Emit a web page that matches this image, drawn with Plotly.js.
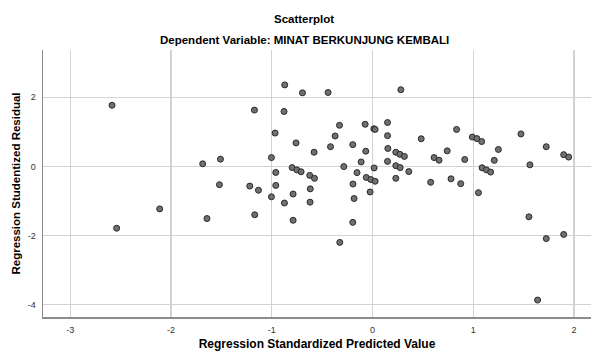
<!DOCTYPE html>
<html>
<head>
<meta charset="utf-8">
<script src="https://cdn.plot.ly/plotly-3.0.1.min.js"></script>
<style>html,body{margin:0;padding:0;background:#fff;}#chart{width:591px;height:351px;}</style>
</head>
<body>
<div id="chart"></div>
<script>
const predicted = [
  -2.585, -1.685, -1.509, -1.519, -2.112, -1.643, -2.539, -0.871, -0.695, -0.441,
  0.281, -1.172, -0.878, -0.328, -0.073, 0.013, 0.026, 0.149, -0.967, -0.371,
  0.149, -0.759, -0.417, -0.196, -0.067, 0.152, 0.231, 0.271, 0.316, -0.58,
  -1.003, -0.113, 0.149, 0.231, 0.274, -0.798, -0.751, -0.709, -0.285, -0.154,
  0.016, -0.960, -0.623, -0.576, -0.062, -0.017, 0.026, 0.231, -1.218, -1.132,
  -0.960, -0.618, -0.194, -1.003, -0.788, -0.874, -0.620, -1.169, -0.788, -0.325,
  -0.183, -0.196, -0.024, 0.834, 0.483, 0.991, 1.036, 1.083, 1.473, 1.724,
  1.249, 1.897, 1.946, 0.611, 0.660, 0.741, 0.915, 1.208, 0.360, 1.087,
  1.130, 1.172, 1.562, 0.577, 0.779, 0.875, 1.051, 1.552, 1.724, 1.897,
  1.638
];
const residual = [
  1.77, 0.075, 0.21, -0.53, -1.23, -1.51, -1.79, 2.36, 2.13, 2.14,
  2.22, 1.63, 1.59, 1.19, 1.22, 1.09, 1.07, 1.27, 0.965, 0.88,
  0.89, 0.68, 0.57, 0.63, 0.44, 0.52, 0.41, 0.35, 0.29, 0.41,
  0.255, 0.13, 0.145, 0.02, -0.035, -0.035, -0.10, -0.155, -0.005, -0.18,
  -0.045, -0.175, -0.26, -0.345, -0.32, -0.38, -0.43, -0.345, -0.57, -0.69,
  -0.55, -0.65, -0.51, -0.88, -0.80, -1.06, -1.035, -1.40, -1.56, -2.20,
  -0.93, -1.62, -0.74, 1.07, 0.80, 0.85, 0.805, 0.72, 0.94, 0.57,
  0.49, 0.34, 0.27, 0.255, 0.18, 0.45, 0.20, 0.175, -0.15, -0.04,
  -0.10, -0.165, 0.045, -0.46, -0.36, -0.50, -0.76, -1.46, -2.09, -1.97,
  -3.87
];
const xTicks = [-3, -2, -1, 0, 1, 2];
const yTicks = [-4, -2, 0, 2];
const chartTitle = 'Scatterplot';
const subTitle = 'Dependent Variable: MINAT BERKUNJUNG KEMBALI';
const xTitle = 'Regression Standardized Predicted Value';
const yTitle = 'Regression Studentized Residual';

const font = 'Liberation Sans, Arial, sans-serif';
const titleX = (304 - 43) / 548;

Plotly.newPlot('chart', [{
  type: 'scatter',
  mode: 'markers',
  x: predicted,
  y: residual,
  marker: {size: 6, color: '#707070', line: {color: '#2a2a2a', width: 1}},
  hoverinfo: 'x+y'
}], {
  width: 591, height: 351,
  margin: {l: 43, r: 0, t: 50, b: 34, pad: 0},
  paper_bgcolor: '#ffffff',
  plot_bgcolor: '#ffffff',
  showlegend: false,
  font: {family: font, color: '#000'},
  xaxis: {
    range: [-3.27, 2.168], tickvals: xTicks, ticktext: xTicks.map(String),
    showgrid: true, gridcolor: '#d2d2d2', gridwidth: 1.3, zeroline: false,
    showline: true, linecolor: '#8c8c8c', linewidth: 1.5,
    ticks: '', ticklabelstandoff: 4,
    tickfont: {family: font, size: 9, color: '#333'},
    title: {text: '<b>' + xTitle + '</b>', standoff: 13, font: {family: font, size: 12, color: '#000'}},
    automargin: false, fixedrange: true
  },
  yaxis: {
    range: [-4.36, 3.37], tickvals: yTicks, ticktext: yTicks.map(String),
    showgrid: true, gridcolor: '#d2d2d2', gridwidth: 1.3, zeroline: false,
    showline: true, linecolor: '#8c8c8c', linewidth: 1.5,
    ticks: '', ticklabelstandoff: 4,
    tickfont: {family: font, size: 9, color: '#333'},
    title: {text: '<b>' + yTitle + '</b>', standoff: 4, font: {family: font, size: 11.5, color: '#000'}},
    automargin: false, fixedrange: true
  },
  annotations: [{
    text: '<b>' + chartTitle + '</b>', xref: 'paper', yref: 'paper',
    x: titleX, y: 1, yshift: 23, xanchor: 'center', yanchor: 'bottom',
    showarrow: false, font: {family: font, size: 11.5, color: '#000'}
  }, {
    text: '<b>' + subTitle + '</b>', xref: 'paper', yref: 'paper',
    x: titleX, y: 1, yshift: 2, xanchor: 'center', yanchor: 'bottom',
    showarrow: false, font: {family: font, size: 11.5, color: '#000'}
  }]
}, {displayModeBar: false, staticPlot: true});
</script>
</body>
</html>
